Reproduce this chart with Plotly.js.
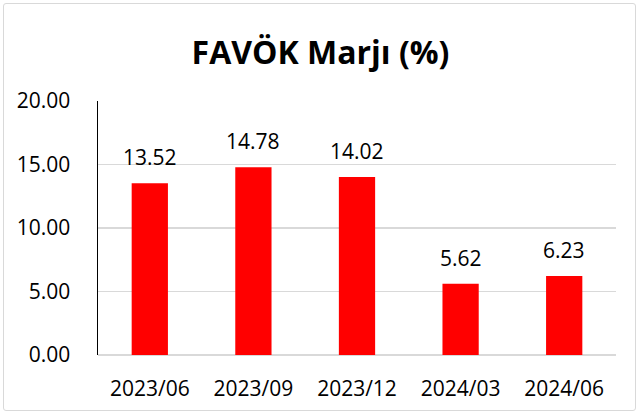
<!DOCTYPE html>
<html><head><meta charset="utf-8">
<script src="https://cdn.plot.ly/plotly-3.0.1.min.js"></script>
<style>
html,body{margin:0;padding:0;background:#fff;}
#wrap{position:relative;width:641px;height:416px;}
#chart{width:641px;height:416px;}
#frame{position:absolute;left:3px;top:3px;width:633px;height:408px;border:1.5px solid #d9d9d9;border-radius:3px;pointer-events:none;box-sizing:border-box;}
</style></head>
<body>
<div id="wrap"><div id="chart"></div><div id="frame"></div></div>
<script>
const categories = ["2023/06","2023/09","2023/12","2024/03","2024/06"];
const values = [13.52, 14.78, 14.02, 5.62, 6.23];
const tickVals = [0,5,10,15,20];
const tickText = ["0.00","5.00","10.00","15.00","20.00"];
const FONT = "Open Sans, sans-serif";

const trace = {
  type: 'bar', x: categories, y: values,
  marker: {color: '#ff0000'},
  hoverinfo: 'none'
};
const annotations = categories.map((c,i)=>({
  x: c, y: values[i], xref:'x', yref:'y',
  text: values[i].toFixed(2), showarrow:false,
  yanchor:'bottom', yshift: 10,
  font:{family:FONT,size:21,color:'#000'}
}));
const layout = {
  width:641, height:416,
  margin:{l:98,r:25,t:101,b:61},
  paper_bgcolor:'rgba(0,0,0,0)', plot_bgcolor:'#fff',
  bargap:0.65,
  showlegend:false,
  title:{text:'<b>FAVÖK Marjı (%)</b>', font:{family:FONT,size:32,color:'#000'}, x:0.5, xanchor:'center', y:0.873, yanchor:'middle'},
  xaxis:{type:'category', showline:false, showgrid:false, zeroline:false, ticks:'',
    tickfont:{family:FONT,size:21,color:'#000'}, ticklabelstandoff:19},
  yaxis:{range:[0,20], tickvals:tickVals, ticktext:tickText, showline:true, linecolor:'#000', linewidth:1.5,
    showgrid:true, gridcolor:'#d9d9d9', gridwidth:1.5, zeroline:true, zerolinecolor:'#d9d9d9', zerolinewidth:1.5,
    ticks:'', tickfont:{family:FONT,size:21,color:'#000'}, ticklabelstandoff:22},
  annotations: annotations
};
Plotly.newPlot('chart',[trace],layout,{staticPlot:true,displayModeBar:false});
</script>
</body></html>
